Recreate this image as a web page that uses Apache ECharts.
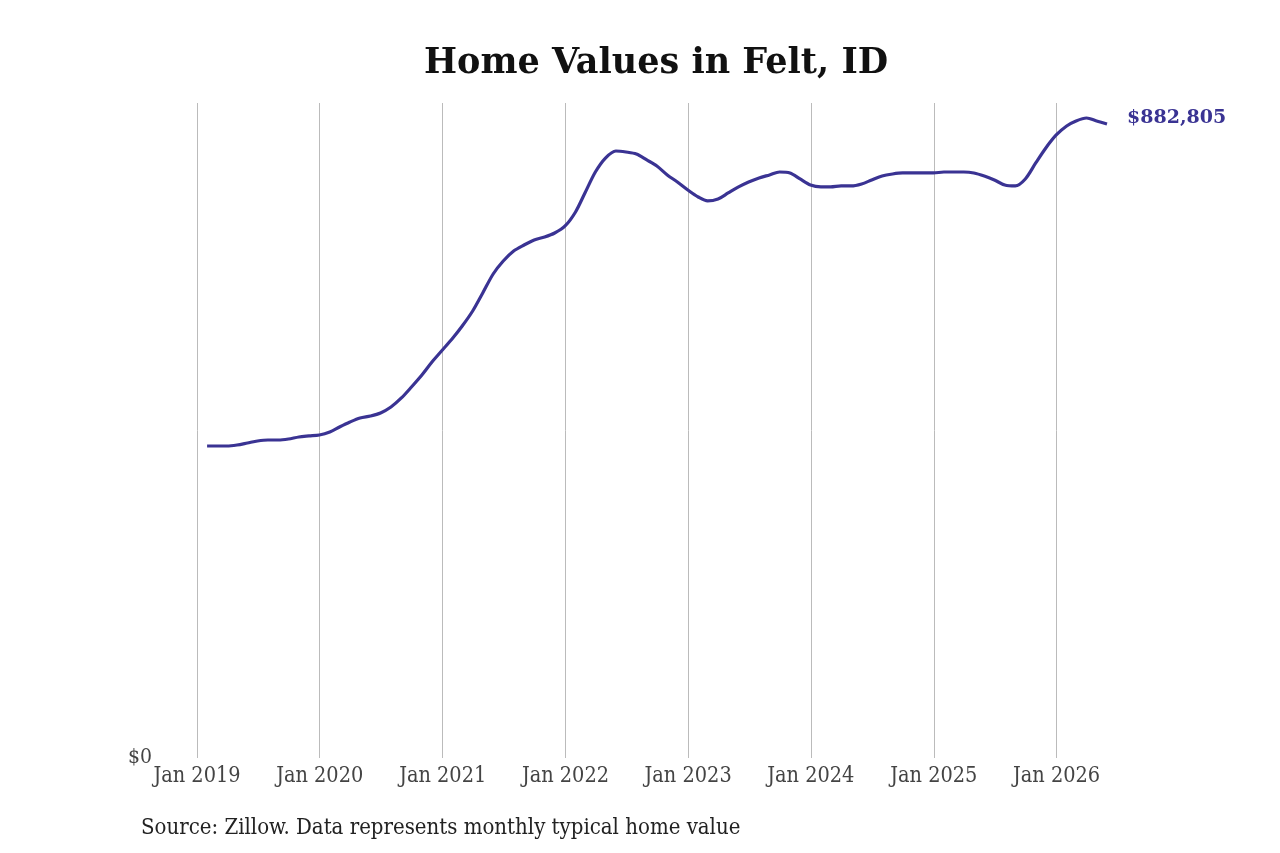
<!DOCTYPE html>
<html>
<head>
<meta charset="utf-8">
<script src="https://cdn.jsdelivr.net/npm/echarts@6/dist/echarts.min.js"></script>
<style>
  html, body { margin: 0; padding: 0; background: #fff; }
  #main { width: 1280px; height: 853px; }
</style>
</head>
<body>
<div id="main"></div>
<script>
// monthly typical home value, Jan 2019 .. May 2026 (end of month)
var startYear = 2019
var homeValues = [
  434400, 434400, 434400, 435800, 438600, 441400, 442800, 442800, 444200, 447000, 448400, 449700,
  453900, 460900, 467800, 473400, 476200, 480400, 488700, 501300, 516600, 533300, 551400, 568100,
  584800, 601500, 622400, 647500, 673900, 692000, 705900, 714300, 721300, 725400, 731000, 740800,
  760300, 786700, 815900, 835400, 845200, 843800, 841000, 832700, 824300, 811800, 802000, 790900,
  781100, 775600, 778400, 786700, 795100, 802000, 807600, 811800, 815900, 814600, 806200, 797800,
  795100, 795100, 796500, 796500, 799200, 804800, 810400, 813200, 814600, 814600, 814600, 814600,
  815900, 815900, 815900, 814600, 810400, 804800, 797800, 796500, 806200, 828500, 849400, 867500,
  880000, 887000, 891100, 887000, 882805
]
var yearTicks = ['Jan 2019', 'Jan 2020', 'Jan 2021', 'Jan 2022', 'Jan 2023', 'Jan 2024', 'Jan 2025', 'Jan 2026']

// dates at the end of each month
var dates = homeValues.map(function (v, i) {
  var d = new Date(Date.UTC(startYear, i + 1, 0))
  return d.toISOString().slice(0, 10)
})
var seriesData = dates.map(function (d, i) { return [d, homeValues[i]] })
// vertical grid lines at each January
var yearLines = yearTicks.map(function (t) { return { xAxis: t.slice(4) + '-01-01' } })

var myChart = echarts.init(document.getElementById('main'))
var serif = 'DejaVu Serif'
var serifCond = '"DejaVu Serif Condensed", "DejaVu Serif"'
var option = {
  backgroundColor: '#fff',
  title: {
    text: 'Home Values in Felt, ID',
    left: 419,
    top: 41,
    textStyle: { fontFamily: serif, fontSize: 35, fontWeight: 'bold', color: '#111' }
  },
  graphic: [{
    type: 'text',
    left: 141,
    top: 817,
    style: { text: 'Source: Zillow. Data represents monthly typical home value', font: '22px "DejaVu Serif Condensed", "DejaVu Serif"', fill: '#222' }
  }],
  grid: { left: 197, right: 173, top: 103, bottom: 95 },
  xAxis: {
    type: 'time',
    min: '2019-01-01',
    max: dates[dates.length - 1],
    splitNumber: 7,
    axisLine: { show: false },
    axisTick: { show: false },
    splitLine: { show: false },
    axisLabel: {
      fontFamily: serifCond, fontSize: 21.5, color: '#444', margin: 7,
      formatter: function (v) {
        var d = new Date(v)
        if (d.getUTCMonth() !== 0 && d.getMonth() !== 0) return ''
        return 'Jan ' + d.getFullYear()
      }
    }
  },
  yAxis: {
    type: 'value',
    min: 0,
    max: 912000,
    interval: 912000,
    axisLine: { show: false },
    axisTick: { show: false },
    splitLine: { show: false },
    axisLabel: {
      fontFamily: serifCond, fontSize: 21, color: '#444', margin: 45,
      padding: [6, 0, 0, 0],
      formatter: function (v) { return v === 0 ? '$0' : '' }
    }
  },
  series: [{
    type: 'line',
    data: seriesData,
    smooth: 0.3,
    showSymbol: false,
    lineStyle: { color: '#3a3393', width: 3.2 },
    endLabel: {
      show: true,
      distance: 20,
      fontFamily: serif, fontSize: 19, fontWeight: 'bold', color: '#3a3393',
      offset: [0, -6],
      formatter: function (p) { return '$' + p.value[1].toLocaleString('en-US') }
    },
    markLine: {
      silent: true,
      symbol: 'none',
      label: { show: false },
      lineStyle: { color: '#bbb', width: 1, type: 'solid' },
      data: yearLines,
      z: 1
    },
    z: 3
  }]
}
myChart.setOption(option)
</script>
</body>
</html>
